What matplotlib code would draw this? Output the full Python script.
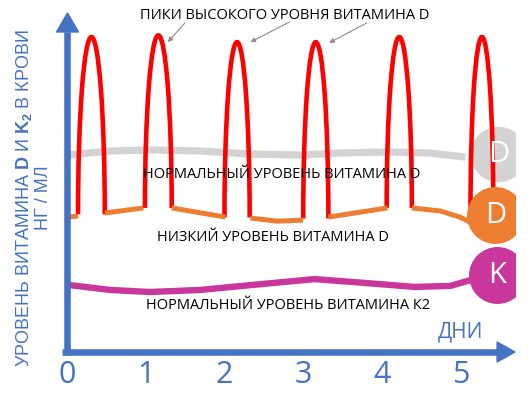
import matplotlib
matplotlib.use("Agg")
import matplotlib.pyplot as plt
from matplotlib.patches import Arc, Polygon

plt.rcParams['font.family'] = ['Open Sans', 'DejaVu Sans']
plt.rcParams['mathtext.fontset'] = 'custom'
plt.rcParams['mathtext.rm'] = 'Liberation Sans'
plt.rcParams['mathtext.bf'] = 'Liberation Sans:bold'

BLUE = "#4472C4"
RED = "#FF0000"
ORANGE = "#ED7D31"
GRAY = "#D3D3D3"
MAGENTA = "#C9379D"

# x = days, y = level (arbitrary units, 0-100)
day_ticks = [0, 1, 2, 3, 4, 5]

# normal vitamin D level (gray)
gray_days = [0.01, 0.55, 1.05, 1.69, 2.33, 2.96, 3.47, 4.10, 4.61, 5.06]
gray_vals = [58.1, 59.3, 59.6, 59.3, 58.4, 58.1, 58.7, 59.0, 58.7, 57.5]

# normal vitamin K2 level (magenta)
k2_days = [0.01, 0.55, 1.05, 1.69, 2.50, 3.14, 3.77, 4.41, 4.87, 5.12]
k2_vals = [19.8, 18.3, 17.7, 18.3, 20.1, 21.5, 20.4, 19.2, 19.5, 21.2]

# low vitamin D level between peaks (orange segments)
low_days = [[0.01, 0.14], [0.48, 0.97], [1.33, 2.01], [2.33, 2.67, 3.00],
            [3.32, 4.07], [4.38, 4.74, 4.99, 5.12]]
low_vals = [[39.8, 40.1], [41.0, 42.5], [42.5, 39.8], [39.5, 38.6, 38.9],
            [39.8, 42.5], [42.5, 41.6, 39.8, 38.3]]

# high vitamin D peaks (red)
peak_days = [0.31, 1.16, 2.16, 3.16, 4.22, 5.27]
peak_tops = [92.9, 93.4, 91.4, 91.4, 92.9, 92.9]
peak_bases = [40.6, 42.5, 39.7, 39.4, 42.5, 41.9]
peak_widths = [0.34, 0.34, 0.32, 0.32, 0.32, 0.29]

# end markers
badge_days = [5.48, 5.44, 5.46]
badge_vals = [58.4, 40.4, 22.7]
badge_text = ["D", "D", "K"]
badge_colors = [GRAY, ORANGE, MAGENTA]

fig = plt.figure(figsize=(5.28, 3.96), dpi=100)
ax = fig.add_axes([67 / 528, 44 / 396, 448 / 528, 339 / 396])
ax.set_xlim(0, 5.69)
ax.set_ylim(0, 100)
for s in ax.spines.values():
    s.set_visible(False)
ax.set_yticks([])
ax.set_xticks(day_ticks, [str(d) for d in day_ticks])
ax.tick_params(axis='x', length=0, pad=6, labelsize=22, labelcolor=BLUE)

# curves
ax.plot(gray_days, gray_vals, color=GRAY, lw=5.2, solid_capstyle='butt', zorder=1)
ax.plot(badge_days[0], badge_vals[0], 'o', ms=40, color=GRAY, mec='none', zorder=2)

for c, top, base, w in zip(peak_days, peak_tops, peak_bases, peak_widths):
    ax.add_patch(Arc((c, base), w, 2 * (top - base), theta1=0, theta2=180,
                     color=RED, lw=3.3, zorder=3))

for xs, ys in zip(low_days, low_vals):
    ax.plot(xs, ys, color=ORANGE, lw=3.6, solid_capstyle='butt', zorder=4)

ax.plot(k2_days, k2_vals, color=MAGENTA, lw=4.6, solid_capstyle='butt', zorder=4)

for d, v, col in zip(badge_days[1:], badge_vals[1:], badge_colors[1:]):
    ax.plot(d, v, 'o', ms=41, color=col, mec='none', zorder=5)
for d, v, t in zip(badge_days, badge_vals, badge_text):
    ax.text(d, v, t, color='white', fontsize=21, ha='center', va='center', zorder=6)

# axes with arrows
ax.plot([0, 0], [-0.009, 0.944], color=BLUE, lw=4.7, transform=ax.transAxes,
        clip_on=False, solid_capstyle='butt', zorder=7)
ax.add_patch(Polygon([(-0.0234, 0.944), (0.0257, 0.944), (0.0011, 1.0)], closed=True,
                     color=BLUE, transform=ax.transAxes, clip_on=False, zorder=7))
ax.plot([-0.011, 0.96], [0, 0], color=BLUE, lw=4.7, transform=ax.transAxes,
        clip_on=False, solid_capstyle='butt', zorder=7)
ax.add_patch(Polygon([(0.96, 0.0295), (0.96, -0.0295), (1.0, 0.0)], closed=True,
                     color=BLUE, transform=ax.transAxes, clip_on=False, zorder=7))

ax.text(5.0, 5.9, "ДНИ", color=BLUE, fontsize=15, ha='center', va='center')

# labels
ax.text(2.77, 99.4, "ПИКИ ВЫСОКОГО УРОВНЯ ВИТАМИНА D", fontsize=10.5,
        ha='center', va='center', zorder=8)
arrow_tips = [(1.28, 91.4), (2.33, 91.4), (3.33, 91.2)]
arrow_starts = [(1.50, 97.1), (2.82, 97.3), (3.81, 97.1)]
for tip, start in zip(arrow_tips, arrow_starts):
    ax.annotate("", xy=tip, xytext=start,
                arrowprops=dict(arrowstyle='-|>', color='#8c8c8c', lw=0.8,
                                mutation_scale=7, shrinkA=0, shrinkB=0))

ax.text(2.73, 52.5, "НОРМАЛЬНЫЙ УРОВЕНЬ ВИТАМИНА D", fontsize=10.5,
        ha='center', va='center', zorder=8)
ax.text(2.62, 33.9, "НИЗКИЙ УРОВЕНЬ ВИТАМИНА D", fontsize=10.5,
        ha='center', va='center', zorder=8)
ax.text(2.81, 13.6, "НОРМАЛЬНЫЙ УРОВЕНЬ ВИТАМИНА К2", fontsize=10.5,
        ha='center', va='center', zorder=8)

fig.text(33 / 528, 1 - 198 / 396,
         "УРОВЕНЬ ВИТАМИНА $\\mathbf{D}$ И $\\mathbf{K_2}$ В КРОВИ\nНГ / МЛ",
         family='Liberation Sans', fontsize=13, color=BLUE, rotation=90,
         ha='center', va='center', multialignment='center', linespacing=1.15)

fig.savefig("out.png", dpi=100)
